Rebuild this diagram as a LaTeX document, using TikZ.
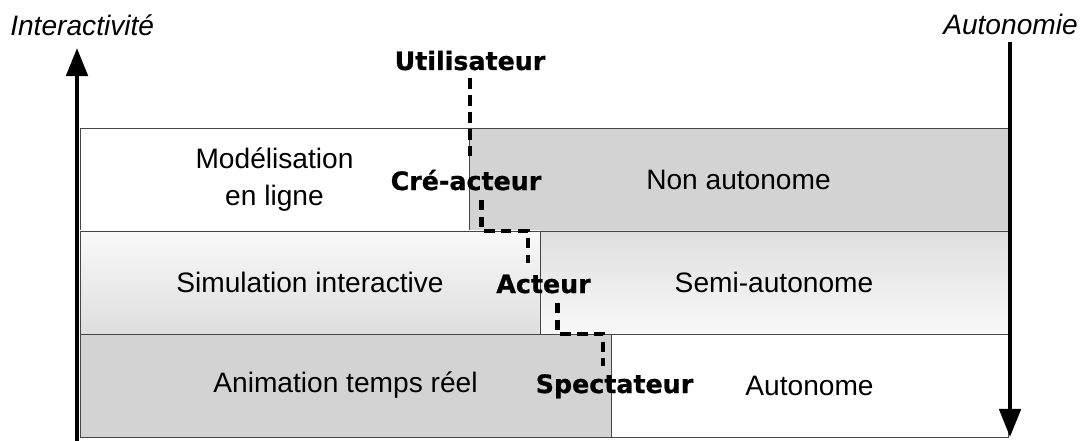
\documentclass[tikz,border=0pt]{standalone}
\usepackage{fontspec}
\setmainfont{Liberation Sans}
\newfontfamily\rolefont{DejaVu Sans}[BoldFeatures={FakeBold=0.8}]
\usepackage{tikz}
\usetikzlibrary{arrows.meta, positioning, calc}
\definecolor{mygrey}{RGB}{211,211,211}
\definecolor{mylight}{RGB}{249,249,249}
\definecolor{mymid}{RGB}{222,222,222}
\definecolor{myedge}{RGB}{70,70,70}
\tikzset{
  zone/.style={rectangle, draw=myedge, line width=0.6pt, inner sep=0pt,
    outer sep=0pt, minimum height=2.575cm, align=center,
    font=\fontsize{20}{26}\selectfont},
  greyzone/.style={zone, fill=mygrey},
  whitezone/.style={zone, fill=white},
  fadezone/.style={zone, top color=mylight, bottom color=mymid},
  risezone/.style={zone, top color=mymid, bottom color=mylight},
  role/.style={font=\rolefont\bfseries\fontsize{18}{22}\selectfont,
    inner sep=0pt, anchor=base},
  axislabel/.style={font=\itshape\fontsize{20}{24}\selectfont, inner sep=0pt},
  axisarrow/.style={-{Triangle[length=0.7cm,width=0.53cm]}, line width=3pt},
  steppath/.style={line width=3pt, dash pattern=on 7.5pt off 4.5pt}
}

\begin{document}
\begin{tikzpicture}[x=0.025cm, y=-0.025cm]
  \useasboundingbox (0,0) rectangle (1083,440);

  % rows of modes
  \node[whitezone, minimum width=9.725cm]  (online) at (274.5,179.5) {Modélisation\\en ligne};
  \node[greyzone,  minimum width=13.475cm] (nonauto) at (738.5,179.5) {Non autonome};
  \node[fadezone,  minimum width=11.5cm]   (simu) at (310,282.5) {Simulation interactive};
  \node[risezone,  minimum width=11.7cm]   (semi) at (774,282.5) {Semi-autonome};
  \node[greyzone,  minimum width=13.275cm] (anim) at (345.5,385.5) {Animation temps réel};
  \node[whitezone, minimum width=9.925cm]  (auto) at (809.5,385.5) {Autonome};

  % axes
  \node[axislabel, anchor=base west] (inter) at (10,36) {Interactivité};
  \node[axislabel, anchor=base east] (autonomy) at (1078,35) {Autonomie};
  \coordinate (interbot) at (77,442);
  \coordinate (autotop) at (1010,42);
  \draw[axisarrow] (interbot) -- (interbot |- 0,48);
  \draw[axisarrow] (autotop) -- (autotop |- 0,437);

  % user roles
  \node[role] (user)  at (470,70)  {Utilisateur};
  \node[role] (crea)  at (466,190) {Cré-acteur};
  \node[role] (actor) at (543.5,293) {Acteur};
  \node[role] (spect) at (614.5,393) {Spectateur};

  % dashed steps between roles
  \draw[steppath] ([yshift=-6pt]user.base) -- ([yshift=24pt]user.base |- crea.base);
  \draw[steppath] ([xshift=11pt,yshift=-7pt]crea.base) |- ([xshift=-11pt]actor.base |- online.south)
    -- ([xshift=-11pt,yshift=21pt]actor.base);
  \draw[steppath] ([xshift=10pt,yshift=-7pt]actor.base) |- ([xshift=-8pt]spect.base |- simu.south)
    -- ([xshift=-8pt,yshift=19pt]spect.base);
\end{tikzpicture}
\end{document}
